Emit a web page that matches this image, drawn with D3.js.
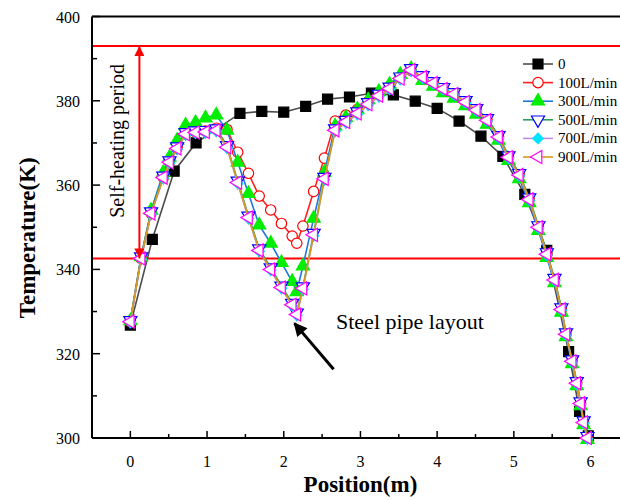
<!DOCTYPE html>
<html>
<head>
<meta charset="utf-8">
<script src="https://cdn.jsdelivr.net/npm/d3@7"></script>
<style>
  body { margin: 0; background: #fff; }
  text { font-family: "Liberation Serif", "Times New Roman", serif; }
</style>
</head>
<body>
<svg id="chart" width="620" height="500"></svg>
<script>
// data
const seriesNames = ["0", "100L/min", "300L/min", "500L/min", "700L/min", "900L/min"];

// series "0" has its own, coarser positions
const pos0 = [0, 0.286, 0.571, 0.857, 1.429, 1.714, 2.0, 2.286, 2.571, 2.857, 3.143,
  3.429, 3.714, 4.0, 4.286, 4.571, 4.857, 5.143, 5.429, 5.714, 5.857, 5.97];
const temp0 = [326.8, 347.1, 363.3, 370, 377, 377.5, 377.3, 378.7, 380.4, 380.9, 381.8,
  381.4, 379.9, 378.2, 375.2, 371.6, 366.8, 357.8, 344.5, 320.5, 306.3, 300.5];

// positions shared by the flow-rate series
const pos = [0, 0.14, 0.27, 0.43, 0.51, 0.61, 0.72, 0.85, 0.98, 1.12, 1.26, 1.40, 1.54,
  1.68, 1.83, 1.97, 2.11, 2.17, 2.25, 2.39, 2.53, 2.67, 2.81, 2.96, 3.10, 3.24, 3.38,
  3.52, 3.66, 3.81, 3.95, 4.08, 4.22, 4.37, 4.51, 4.65, 4.80, 4.93, 5.07, 5.20, 5.32,
  5.43, 5.53, 5.62, 5.68, 5.76, 5.82, 5.87, 5.91, 5.96];

const temp100 = [327.6, 342.6, 353.3, 361.8, 365.4, 368.8, 372.2, 372.6, 372.8, 373.5,
  373.2, 367.8, 362.8, 357.4, 354.1, 350.9, 347.9, 346.2, 350.3, 358.5, 366.4, 375.2,
  376.6, 378.0, 379.8, 381.6, 383.2, 385.5, 387.2, 385.6, 384.2, 382.8, 381.6, 379.7,
  377.8, 375.4, 371.4, 366.6, 362.4, 356.6, 350.0, 343.6, 337.5, 330.5, 324.6, 318.2,
  313.0, 308.2, 303.7, 300.0];
const temp300 = [327.8, 343.0, 354.0, 363.0, 366.6, 370.6, 374.2, 374.8, 375.9, 376.6,
  373.0, 365.4, 358.0, 350.5, 346.2, 341.6, 337.1, 334.7, 340.8, 352.1, 363.0, 374.0,
  376.0, 378.0, 380.2, 382.2, 383.9, 386.2, 387.6, 384.8, 383.4, 381.9, 380.6, 378.8,
  376.8, 374.4, 370.6, 365.8, 361.5, 355.8, 349.2, 342.8, 336.8, 329.8, 324.0, 317.6,
  312.4, 307.6, 303.1, 299.6];
const temp500 = [327.9, 343.0, 353.7, 362.2, 365.8, 369.1, 372.5, 372.9, 373.0, 373.4,
  369.4, 361.0, 352.7, 344.9, 340.4, 336.1, 332.0, 329.7, 335.9, 348.6, 361.9, 373.4,
  375.4, 377.4, 379.6, 381.6, 383.3, 385.7, 387.7, 386.0, 384.6, 383.2, 382.0, 380.1,
  378.2, 375.8, 371.8, 367.0, 362.8, 357.0, 350.4, 344.0, 337.9, 330.9, 325.0, 318.6,
  313.4, 308.6, 304.1, 300.4];
const temp700 = [327.4, 342.4, 353.1, 361.6, 365.2, 368.5, 371.9, 372.3, 372.4, 372.8,
  368.8, 360.4, 352.1, 344.3, 339.8, 335.5, 331.4, 329.1, 335.3, 348.0, 361.3, 372.8,
  374.8, 376.8, 379.0, 381.0, 382.7, 385.1, 387.1, 385.4, 384.0, 382.6, 381.4, 379.5,
  377.6, 375.2, 371.2, 366.4, 362.2, 356.4, 349.8, 343.4, 337.3, 330.3, 324.4, 318.0,
  312.8, 308.0, 303.5, 299.8];
const temp900 = [327.6, 342.6, 353.3, 361.8, 365.4, 368.7, 372.1, 372.5, 372.6, 373.0,
  369.0, 360.6, 352.3, 344.5, 340.0, 335.7, 331.6, 329.3, 335.5, 348.2, 361.5, 373.0,
  375.0, 377.0, 379.2, 381.2, 382.9, 385.3, 387.3, 385.6, 384.2, 382.8, 381.6, 379.7,
  377.8, 375.4, 371.4, 366.6, 362.4, 356.6, 350.0, 343.6, 337.5, 330.5, 324.6, 318.2,
  313.0, 308.2, 303.7, 300.0];

const xTicks = [0, 1, 2, 3, 4, 5, 6];
const yTicks = [300, 320, 340, 360, 380, 400];
const selfHeating = [393.0, 342.6]; // red guide lines (K)

// styles
const styles = [
  { line: "#4d4d4d", stroke: "#000", fill: "#000", shape: "square" },
  { line: "#ff2020", stroke: "#ff0000", fill: "#fff", shape: "circle" },
  { line: "#2277dd", stroke: "#00ee00", fill: "#00ee00", shape: "up" },
  { line: "#2e9e5e", stroke: "#0000ff", fill: "#fff", shape: "down" },
  { line: "#c58be0", stroke: "#00e5ff", fill: "#00e5ff", shape: "diamond" },
  { line: "#d49c1c", stroke: "#ff00ff", fill: "#fff", shape: "left" }
];

const series = [
  { x: pos0, y: temp0 },
  { x: pos, y: temp100 },
  { x: pos, y: temp300 },
  { x: pos, y: temp500 },
  { x: pos, y: temp700 },
  { x: pos, y: temp900 }
].map((s, i) => ({
  name: seriesNames[i],
  style: styles[i],
  points: s.x.map((d, j) => ({ x: d, t: s.y[j] }))
}));

const svg = d3.select("#chart");
const x = d3.scaleLinear().domain([-0.5, 6.5]).range([92, 628.9]);
const y = d3.scaleLinear().domain([300, 400]).range([438, 16.5]);

function symbolPath(shape) {
  if (shape === "square") return d3.symbol(d3.symbolSquare, 100)();
  if (shape === "circle") return d3.symbol(d3.symbolCircle, 85)();
  if (shape === "diamond") return d3.symbol(d3.symbolSquare, 55)();
  return d3.symbol(d3.symbolTriangle, 75)();
}
function symbolRot(shape) {
  if (shape === "down") return 180;
  if (shape === "left") return -90;
  if (shape === "diamond") return 45;
  return 0;
}

// red guide lines
svg.selectAll(".guide")
  .data(selfHeating)
  .enter().append("line")
  .attr("class", "guide")
  .attr("x1", x(-0.5)).attr("x2", 620)
  .attr("y1", d => y(d)).attr("y2", d => y(d))
  .attr("stroke", "#ff0000").attr("stroke-width", 2);

// axes
const gx = svg.append("g").attr("transform", `translate(0,${y(300)})`);
gx.append("line").attr("x1", x(-0.5)).attr("x2", 620).attr("stroke", "#000").attr("stroke-width", 2);
gx.selectAll(".tk")
  .data(d3.range(-0.5, 6.51, 0.5))
  .enter().append("line")
  .attr("x1", d => x(d)).attr("x2", d => x(d))
  .attr("y1", 0).attr("y2", d => Number.isInteger(d) ? -7 : -4)
  .attr("stroke", "#000").attr("stroke-width", 1.5);
gx.selectAll(".lbl")
  .data(xTicks)
  .enter().append("text")
  .attr("x", d => x(d)).attr("y", 29)
  .attr("text-anchor", "middle")
  .attr("font-size", 16)
  .text(d => d);

const gy = svg.append("g").attr("transform", `translate(${x(-0.5)},0)`);
gy.append("line").attr("y1", y(300)).attr("y2", y(400)).attr("stroke", "#000").attr("stroke-width", 2);
gy.selectAll(".tk")
  .data(d3.range(300, 401, 10))
  .enter().append("line")
  .attr("y1", d => y(d)).attr("y2", d => y(d))
  .attr("x1", 0).attr("x2", d => d % 20 === 0 ? 8 : 5)
  .attr("stroke", "#000").attr("stroke-width", 1.5);
gy.selectAll(".lbl")
  .data(yTicks)
  .enter().append("text")
  .attr("x", -12).attr("y", d => y(d) + 6)
  .attr("text-anchor", "end")
  .attr("font-size", 16)
  .text(d => d);

// top border
svg.append("line")
  .attr("x1", x(-0.5)).attr("x2", 620)
  .attr("y1", y(400)).attr("y2", y(400))
  .attr("stroke", "#000").attr("stroke-width", 2);

// series
const line = d3.line().x(d => x(d.x)).y(d => y(d.t));
series.forEach(s => {
  const g = svg.append("g");
  g.append("path")
    .attr("d", line(s.points))
    .attr("fill", "none")
    .attr("stroke", s.style.line)
    .attr("stroke-width", 1.6);
  g.selectAll("path.m")
    .data(s.points)
    .enter().append("path")
    .attr("class", "m")
    .attr("d", symbolPath(s.style.shape))
    .attr("transform", d => `translate(${x(d.x)},${y(d.t)}) rotate(${symbolRot(s.style.shape)})`)
    .attr("fill", s.style.fill)
    .attr("stroke", s.style.stroke)
    .attr("stroke-width", 1.2);
});

// self-heating double arrow
const defs = svg.append("defs");
defs.append("marker")
  .attr("id", "redhead")
  .attr("viewBox", "0 0 10 10")
  .attr("refX", 10).attr("refY", 5)
  .attr("markerWidth", 6).attr("markerHeight", 5)
  .attr("markerUnits", "strokeWidth")
  .attr("orient", "auto-start-reverse")
  .append("path").attr("d", "M0,0 L10,5 L0,10 Z").attr("fill", "#ff0000");
svg.append("line")
  .attr("x1", x(0.118)).attr("x2", x(0.118))
  .attr("y1", y(selfHeating[0])).attr("y2", y(selfHeating[1]))
  .attr("stroke", "#ff0000").attr("stroke-width", 2)
  .attr("marker-start", "url(#redhead)")
  .attr("marker-end", "url(#redhead)");

svg.append("text")
  .attr("transform", `translate(124,${y(370.5)}) rotate(-90)`)
  .attr("text-anchor", "middle")
  .attr("font-size", 20)
  .text("Self-heating period");

// steel pipe annotation
defs.append("marker")
  .attr("id", "blackhead")
  .attr("viewBox", "0 0 10 10")
  .attr("refX", 9).attr("refY", 5)
  .attr("markerWidth", 6).attr("markerHeight", 4.5)
  .attr("markerUnits", "strokeWidth")
  .attr("orient", "auto")
  .append("path").attr("d", "M0,0 L10,5 L0,10 Z").attr("fill", "#000");
svg.append("line")
  .attr("x1", x(2.65)).attr("y1", y(316.3))
  .attr("x2", x(2.14)).attr("y2", y(327.2))
  .attr("stroke", "#000").attr("stroke-width", 3)
  .attr("marker-end", "url(#blackhead)");
svg.append("text")
  .attr("x", 336).attr("y", 329)
  .attr("font-size", 22)
  .text("Steel pipe layout");

// axis titles
svg.append("text")
  .attr("transform", `translate(35,${y(347.5)}) rotate(-90)`)
  .attr("text-anchor", "middle")
  .attr("font-size", 23).attr("font-weight", "bold")
  .text("Temperature(K)");
svg.append("text")
  .attr("x", x(3)).attr("y", 492)
  .attr("text-anchor", "middle")
  .attr("font-size", 23).attr("font-weight", "bold")
  .text("Position(m)");

// legend
const legend = svg.append("g").attr("transform", "translate(523,64)");
const item = legend.selectAll("g")
  .data(series)
  .enter().append("g")
  .attr("transform", (d, i) => `translate(0,${i * 18.6})`);
item.append("line")
  .attr("x1", 0).attr("x2", 30)
  .attr("stroke", d => d.style.line).attr("stroke-width", 1.6);
item.append("path")
  .attr("d", d => symbolPath(d.style.shape))
  .attr("transform", d => `translate(15,0) rotate(${symbolRot(d.style.shape)})`)
  .attr("fill", d => d.style.fill)
  .attr("stroke", d => d.style.stroke)
  .attr("stroke-width", 1.2);
item.append("text")
  .attr("x", 35).attr("y", 5)
  .attr("font-size", 15)
  .text(d => d.name);
</script>
</body>
</html>
